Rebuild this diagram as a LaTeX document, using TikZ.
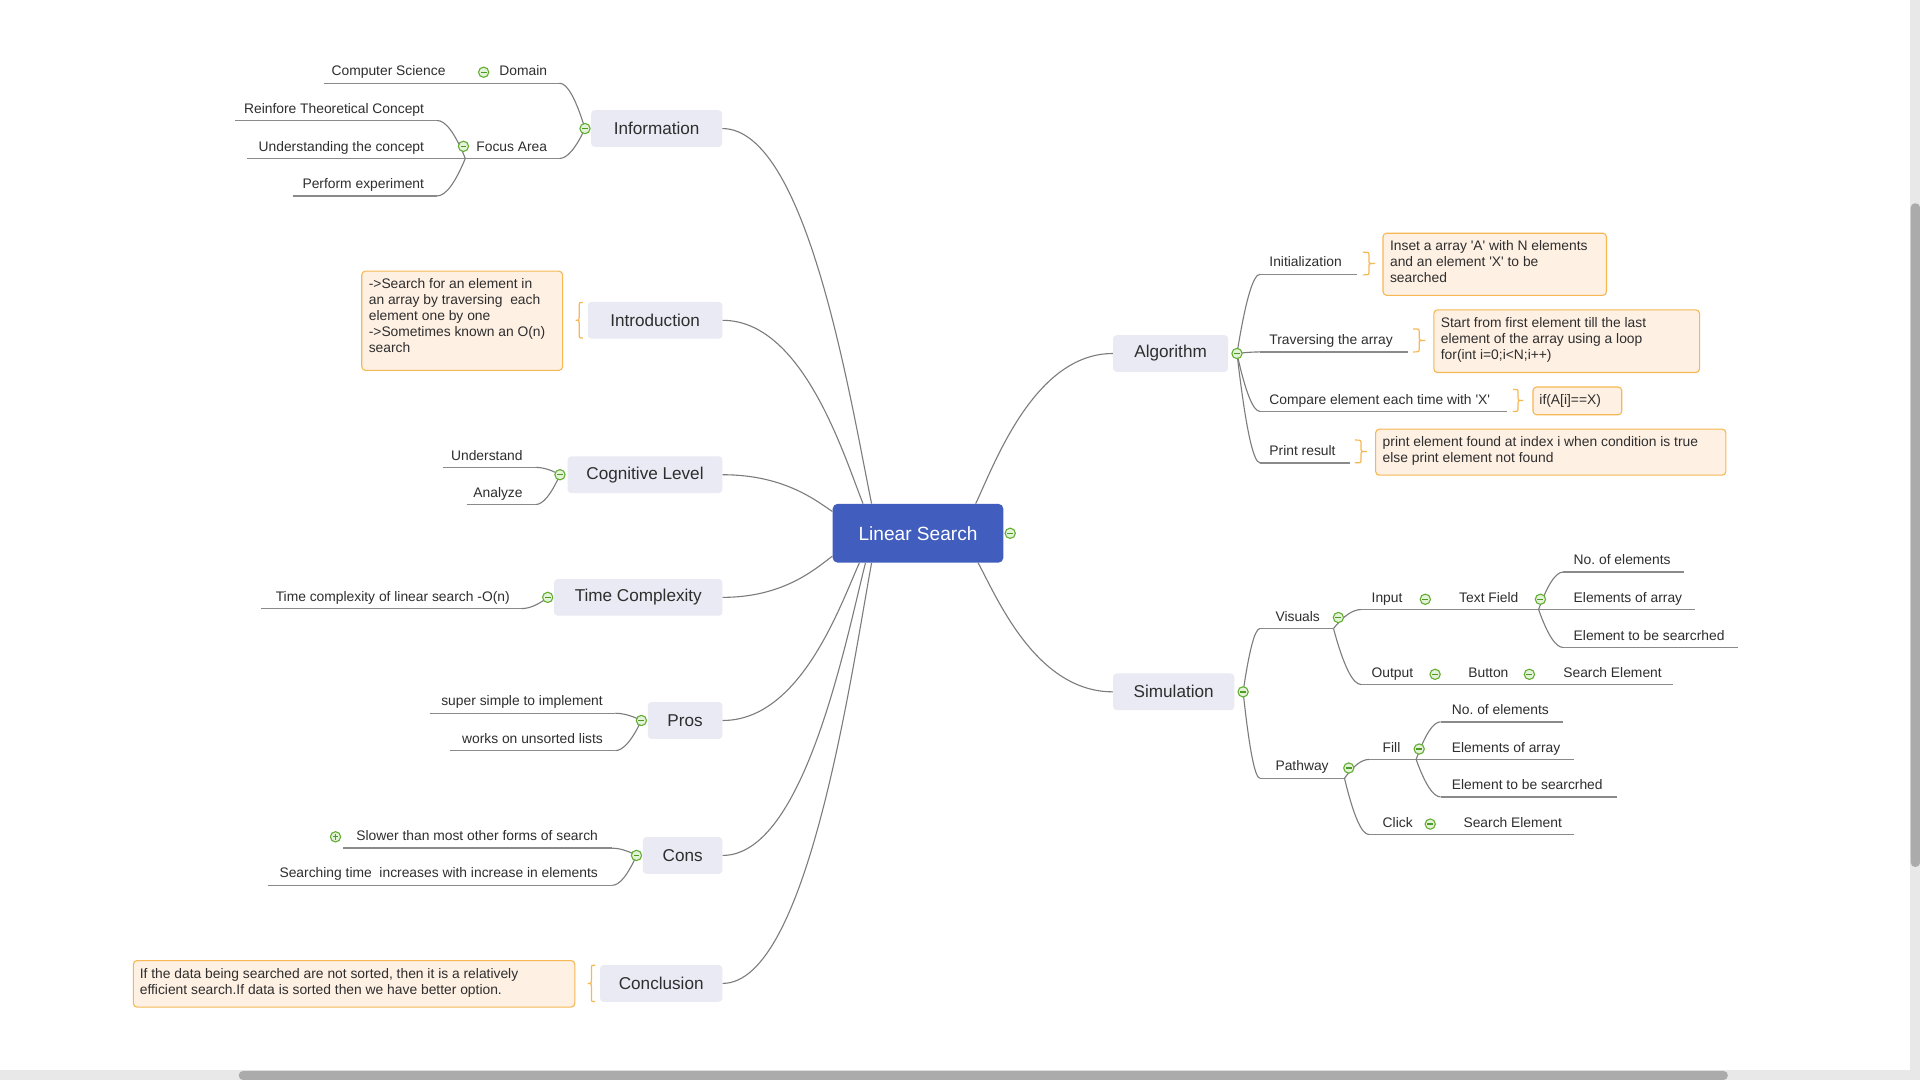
\documentclass[tikz,border=0pt]{standalone}
\usepackage{fontspec}
\setmainfont{Liberation Sans}
\usetikzlibrary{calc}
\frenchspacing
\definecolor{txt}{HTML}{2E2E2E}
\definecolor{rootfill}{HTML}{415EBE}
\definecolor{nodefill}{HTML}{E9EAF3}
\definecolor{notefill}{HTML}{FEF0E3}
\definecolor{notedraw}{HTML}{F6B853}
\definecolor{gbord}{HTML}{62AE33}
\definecolor{gfill}{HTML}{E4F3D8}
\definecolor{gmark}{HTML}{4E9A25}
\definecolor{linec}{HTML}{7C7C7C}
\definecolor{ulinec}{HTML}{8A8A8A}
\definecolor{sbtrack}{HTML}{E8E8E8}
\definecolor{sbthumb}{HTML}{ABABAB}
\newcommand\sq{\textquotesingle}
\newcommand\itemL[6]{%
  \coordinate (#1-l) at (#2,#4);
  \coordinate (#1-r) at (#3,#4);
  \draw[uline] (#1-l) -- (#1-r);
  \node[lbl, anchor=base east] (#1) at (#5,#4-6) {#6};}
\newcommand\itemR[6]{%
  \coordinate (#1-l) at (#2,#4);
  \coordinate (#1-r) at (#3,#4);
  \draw[uline] (#1-l) -- (#1-r);
  \node[lbl, anchor=base west] (#1) at (#5,#4-6) {#6};}
\newcommand\fan[2]{%
  \draw[conn] let \p1=(#1), \p2=(#2) in (#1) .. controls ({\x1+0.3667*((\x2)-(\x1))},{\y1+0.6667*((\y2)-(\y1))}) and ({\x2+0.3*((\x1)-(\x2))},\y2) .. (#2);}
\newcommand\mainconn[2]{%
  \draw[conn] let \p1=(#1), \p2=(#2) in (#1) .. controls ({\x1+0.14*((\x2)-(\x1))},{\y1+0.27*((\y2)-(\y1))}) and ({\x2-0.57*((\x2)-(\x1))},\y2) .. (#2);}
\newcommand\bracepath[4]{%
  \pgfmathsetmacro\bxm{(#1+#2)/2}%
  \pgfmathsetmacro\bym{(#3+#4)/2}%
  \draw[brc] (#1,#3) .. controls (\bxm,#3) .. (\bxm,#3+3) -- (\bxm,\bym-2.5) .. controls (\bxm,\bym) .. (#2,\bym) .. controls (\bxm,\bym) .. (\bxm,\bym+2.5) -- (\bxm,#4-3) .. controls (\bxm,#4) .. (#1,#4);}
\begin{document}
\begin{tikzpicture}[x=1pt,y=-1pt,
  lbl/.style={inner sep=0, text=txt, font=\fontsize{11.3}{13.1}\selectfont},
  uline/.style={draw=ulinec, line width=1.2},
  conn/.style={draw=linec, line width=0.9},
  brc/.style={draw=notedraw, line width=1},
  mainnode/.style={rounded corners=3, fill=nodefill, minimum height=30, inner sep=0, text=txt, font=\fontsize{14}{16}\selectfont},
  root/.style={rounded corners=4, fill=rootfill, text=white, minimum width=139.4, minimum height=48, inner sep=0, font=\fontsize{15.6}{18}\selectfont},
  notebox/.style={draw=notedraw, fill=notefill, rounded corners=3, line width=0.9, inner sep=0, anchor=north west},
  notetxt/.style={anchor=north west, align=left, inner sep=0, text=txt, font=\fontsize{11.3}{13.1}\selectfont},
  cbtn/.style={circle, draw=gbord, fill=gfill, minimum size=8.4, inner sep=0, line width=0.9,
    path picture={\draw[gmark, line width=1.1] ([xshift=-2.4pt]path picture bounding box.center) -- ([xshift=2.4pt]path picture bounding box.center);}},
  cplus/.style={cbtn, path picture={\draw[gmark, line width=1.1] ([xshift=-2.4pt]path picture bounding box.center) -- ([xshift=2.4pt]path picture bounding box.center) ([yshift=-2.4pt]path picture bounding box.center) -- ([yshift=2.4pt]path picture bounding box.center);}}
]
\useasboundingbox (0,0) rectangle (1568,882);
\fill[white] (0,0) rectangle (1568,882);
% scrollbars
\fill[sbtrack] (1559.8,0) rectangle (1568,882);
\fill[sbtrack] (0,873.8) rectangle (1568,882);
\fill[sbthumb, rounded corners=3.5] (195,874.6) rectangle (1411,882);
\fill[sbthumb, rounded corners=3.5] (1560.4,166) rectangle (1568,708);

% root and main nodes
\node[root] (ls) at (749.7,435.5) {Linear Search};
\node[mainnode, minimum width=107] (info) at (536.25,105) {Information};
\node[mainnode, minimum width=110] (intro) at (535,261.6) {Introduction};
\node[mainnode, minimum width=126.5] (cog) at (526.75,387.7) {Cognitive Level};
\node[mainnode, minimum width=137.5] (tc) at (521.25,487.85) {Time Complexity};
\node[mainnode, minimum width=61] (pros) at (559.5,588.4) {Pros};
\node[mainnode, minimum width=65] (cons) at (557.5,698.6) {Cons};
\node[mainnode, minimum width=100] (concl) at (540,803.1) {Conclusion};
\node[mainnode, minimum width=94] (algo) at (956,288.7) {Algorithm};
\node[mainnode, minimum width=99] (sim) at (958.5,565) {Simulation};

% collapse-button positions
\coordinate (ls-c) at ($(ls.east)+(5.4,0)$);
\coordinate (info-c) at ($(info.west)+(-4.8,0)$);
\coordinate (cog-c) at ($(cog.west)+(-6,0)$);
\coordinate (tc-c) at ($(tc.west)+(-5,0)$);
\coordinate (pros-c) at ($(pros.west)+(-5,0)$);
\coordinate (cons-c) at ($(cons.west)+(-5,0)$);
\coordinate (algo-c) at ($(algo.east)+(7,0)$);
\coordinate (sim-c) at ($(sim.east)+(7,0)$);

% main connectors
\coordinate (s-info) at ($(ls.north west)+(32,0)$);
\coordinate (s-intro) at ($(ls.north west)+(25,0)$);
\coordinate (s-cog) at ($(ls.north west)+(0,6.4)$);
\coordinate (s-tc) at ($(ls.south west)+(0,-5.5)$);
\coordinate (s-pros) at ($(ls.south west)+(22,0)$);
\coordinate (s-cons) at ($(ls.south west)+(27,0)$);
\coordinate (s-concl) at ($(ls.south west)+(32,0)$);
\coordinate (s-algo) at ($(ls.north west)+(117,0)$);
\coordinate (s-sim) at ($(ls.south west)+(119,0)$);
\mainconn{s-info}{info.east}
\mainconn{s-intro}{intro.east}
\mainconn{s-cog}{cog.east}
\mainconn{s-tc}{tc.east}
\mainconn{s-pros}{pros.east}
\mainconn{s-cons}{cons.east}
\mainconn{s-concl}{concl.east}
\mainconn{s-algo}{algo.west}
\mainconn{s-sim}{sim.west}

% Information
\itemL{cs}{265}{372}{68}{364}{Computer Science}
\itemL{dom}{372}{457}{68}{447}{Domain}
\itemL{fa}{380}{457}{129.4}{447}{Focus Area}
\itemL{rtc}{192}{357}{98.4}{346.5}{Reinfore Theoretical Concept}
\itemL{utc}{202}{380}{129.4}{346.5}{Understanding the concept}
\itemL{pe}{239}{357}{160}{346.5}{Perform experiment}
\fan{info-c}{dom-r}
\fan{info-c}{fa-r}
\fan{fa-l}{rtc-r}
\fan{fa-l}{pe-r}
% Introduction note
\bracepath{476}{470}{247}{276}
\node[notebox, minimum width=164, minimum height=81] (n-intro) at (295,221) {};
\node[notetxt] (t-intro) at (301,227) {->Search for an element in\\an array by traversing~ each\\element one by one\\->Sometimes known an O(n)\\search};
% Cognitive
\itemL{und}{362}{437.5}{381.7}{427}{Understand}
\itemL{ana}{381}{437.5}{412}{427}{Analyze}
\fan{cog-c}{und-r}
\fan{cog-c}{ana-r}
% Time complexity
\itemL{tcl}{213.5}{426}{497}{416.5}{Time complexity of linear search -O(n)}
\fan{tc-c}{tcl-r}
% Pros
\itemL{ssi}{351}{502.5}{582.5}{492.5}{super simple to implement}
\itemL{wul}{367.5}{502.5}{613}{492.5}{works on unsorted lists}
\fan{pros-c}{ssi-r}
\fan{pros-c}{wul-r}
% Cons
\itemL{stm}{280}{500}{692.7}{488.5}{Slower than most other forms of search}
\itemL{sti}{218.5}{500}{723}{488.5}{Searching time~ increases with increase in elements}
\fan{cons-c}{stm-r}
\fan{cons-c}{sti-r}
% Conclusion note
\bracepath{486}{480}{788.3}{818}
\node[notebox, minimum width=360.5, minimum height=38] (n-concl) at (108.5,784) {};
\node[notetxt] (t-concl) at (114,790.8) {If the data being searched are not sorted, then it is a relatively\\efficient search.If data is sorted then we have better option.};

% Algorithm
\itemR{ini}{1029}{1108}{224}{1036.5}{Initialization}
\itemR{tra}{1029}{1150}{287.4}{1036.5}{Traversing the array}
\itemR{cmp}{1029}{1230.5}{336}{1036.5}{Compare element each time with \sq X\sq}
\itemR{prt}{1029}{1102.5}{378}{1036.5}{Print result}
\fan{algo-c}{ini-l}
\fan{algo-c}{tra-l}
\fan{algo-c}{cmp-l}
\fan{algo-c}{prt-l}
\bracepath{1113}{1123}{206}{224.5}
\bracepath{1154}{1164}{268.6}{287.4}
\bracepath{1235.5}{1244}{318}{336}
\bracepath{1106.5}{1116.5}{359.4}{378}
\node[notebox, minimum width=182.5, minimum height=50.75] (n-ini) at (1129,190) {};
\node[notetxt] (t-ini) at (1135,195.8) {Inset a array \sq A\sq{} with N elements\\and an element \sq X\sq{} to be\\searched};
\node[notebox, minimum width=217, minimum height=51.15] (n-tra) at (1170.5,252.6) {};
\node[notetxt] (t-tra) at (1176.5,258.8) {Start from first element till the last\\element of the array using a loop\\for(int i=0;i<N;i++)};
\node[notebox, minimum width=72.5, minimum height=22.7] (n-cmp) at (1251.5,315.6) {};
\node[notetxt] (t-cmp) at (1257,322) {if(A[i]==X)};
\node[notebox, minimum width=286, minimum height=37.6] (n-prt) at (1123,350) {};
\node[notetxt] (t-prt) at (1129,356.6) {print element found at index i when condition is true\\else print element not found};

% Simulation
\itemR{vis}{1029}{1089}{513.3}{1041.5}{Visuals}
\itemR{inp}{1111.5}{1184}{497.8}{1120}{Input}
\itemR{tf}{1184}{1256.5}{497.8}{1191.5}{Text Field}
\itemR{noea}{1276.5}{1375.5}{467.2}{1285}{No. of elements}
\itemR{eoaa}{1256.5}{1384}{497.8}{1285}{Elements of array}
\itemR{etsa}{1276.5}{1419}{528.75}{1285}{Element to be searcrhed}
\itemR{out}{1111.5}{1191.5}{559}{1120}{Output}
\itemR{btn}{1191.5}{1269}{559}{1199}{Button}
\itemR{sea}{1269}{1366.5}{559}{1276.5}{Search Element}
\itemR{pw}{1029}{1098}{635.6}{1041.5}{Pathway}
\itemR{fill}{1118}{1156.5}{620.2}{1129}{Fill}
\itemR{noeb}{1176.5}{1276.5}{589.5}{1185.5}{No. of elements}
\itemR{eoab}{1156.5}{1285.5}{620.2}{1185.5}{Elements of array}
\itemR{etsb}{1176.5}{1320.5}{650.8}{1185.5}{Element to be searcrhed}
\itemR{clk}{1118}{1188}{681.5}{1129}{Click}
\itemR{seb}{1188}{1285.5}{681.5}{1195}{Search Element}
\fan{sim-c}{vis-l}
\fan{sim-c}{pw-l}
\fan{vis-r}{inp-l}
\fan{vis-r}{out-l}
\fan{tf-r}{noea-l}
\fan{tf-r}{etsa-l}
\fan{pw-r}{fill-l}
\fan{pw-r}{clk-l}
\fan{fill-r}{noeb-l}
\fan{fill-r}{etsb-l}

% collapse buttons
\node[cbtn] (ls-b) at (ls-c) {};
\node[cbtn] (info-b) at (info-c) {};
\node[cbtn] (cog-b) at (cog-c) {};
\node[cbtn] (tc-b) at (tc-c) {};
\node[cbtn] (pros-b) at (pros-c) {};
\node[cbtn] (cons-b) at (cons-c) {};
\node[cbtn] (algo-b) at (algo-c) {};
\node[cbtn] (sim-b) at (sim-c) {};
\node[cbtn] (dom-b) at (395,59) {};
\node[cbtn] (fa-b) at (378.5,119.5) {};
\node[cplus] (stm-b) at (274,683.4) {};
\node[cbtn] (vis-b) at (1093,504.3) {};
\node[cbtn] (inp-b) at (1164,489.4) {};
\node[cbtn] (tf-b) at (1258,489.4) {};
\node[cbtn] (out-b) at (1172,550.7) {};
\node[cbtn] (btn-b) at (1249,550.7) {};
\node[cbtn] (pw-b) at (1101.5,627.2) {};
\node[cbtn] (fill-b) at (1159,611.7) {};
\node[cbtn] (clk-b) at (1168,673) {};
\end{tikzpicture}
\end{document}
